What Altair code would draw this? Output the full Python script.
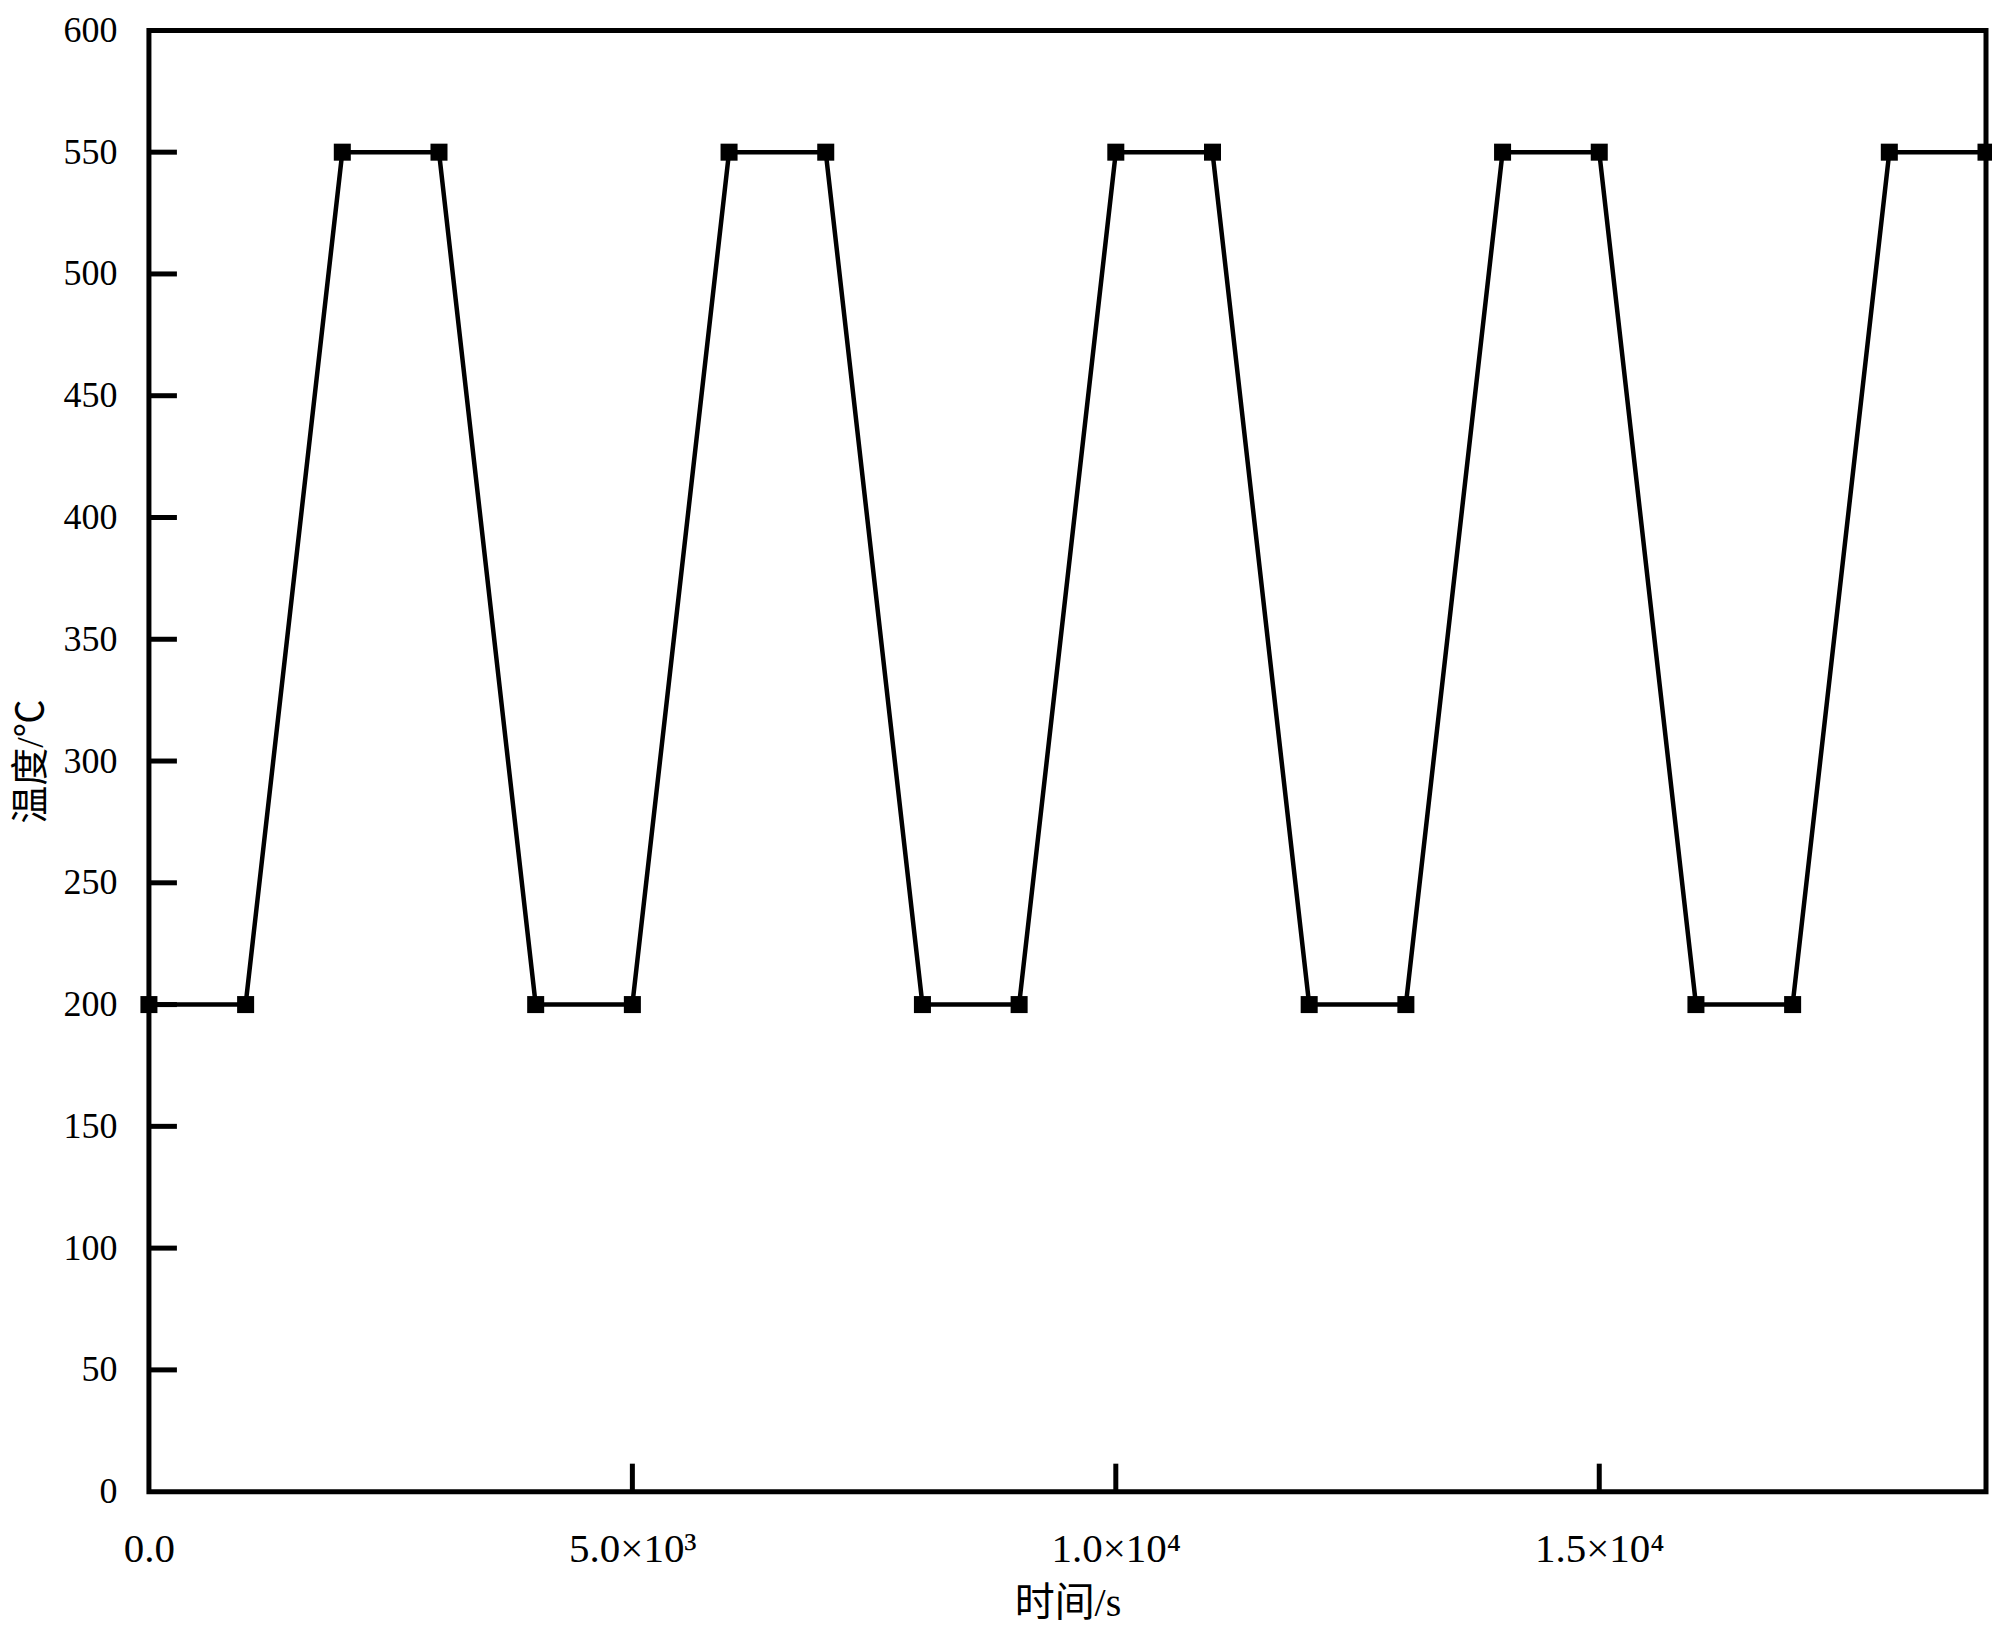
import altair as alt
import pandas as pd

time_s = [0, 1000, 2000, 3000, 4000, 5000, 6000, 7000, 8000, 9000,
          10000, 11000, 12000, 13000, 14000, 15000, 16000, 17000, 18000, 19000]
temp_c = [200, 200, 550, 550, 200, 200, 550, 550, 200, 200,
          550, 550, 200, 200, 550, 550, 200, 200, 550, 550]

x_tick_values = [0, 5000, 10000, 15000]
x_tick_labels = ["0.0", "5.0×10³", "1.0×10⁴", "1.5×10⁴"]
y_tick_values = [0, 50, 100, 150, 200, 250, 300, 350, 400, 450, 500, 550, 600]
x_inner_ticks = [5000, 10000, 15000]
y_inner_ticks = [50, 100, 150, 200, 250, 300, 350, 400, 450, 500, 550]

df = pd.DataFrame({"t": time_s, "T": temp_c})

W, H = 1838, 1462
FONT = "Liberation Serif, Noto Sans CJK SC"

label_expr = " : ".join(
    f"datum.value == {v} ? '{l}'" for v, l in zip(x_tick_values, x_tick_labels)
) + " : ''"

xscale = alt.Scale(domain=[0, 19000], nice=False, zero=False)
yscale = alt.Scale(domain=[0, 600], nice=False)

base = alt.Chart(df)

line = base.mark_line(color="black", strokeWidth=4.5).encode(
    x=alt.X("t:Q", scale=xscale,
            axis=alt.Axis(title="时间/s", values=x_tick_values, labelExpr=label_expr,
                          ticks=False, tickSize=0, domain=False, grid=False,
                          labelPadding=38, titlePadding=14,
                          labelFontSize=41, titleFontSize=40,
                          labelFont=FONT, titleFont=FONT, labelColor="black",
                          titleColor="black", titleFontWeight="normal",
                          labelOverlap=False, labelFlush=False)),
    y=alt.Y("T:Q", scale=yscale,
            axis=alt.Axis(title="温度/℃", values=y_tick_values,
                          ticks=False, tickSize=0, domain=False, grid=False,
                          labelPadding=32, titlePadding=12,
                          labelFontSize=36, titleFontSize=38,
                          labelFont=FONT, titleFont=FONT, labelColor="black",
                          titleColor="black", titleFontWeight="normal",
                          labelOverlap=False, labelFlush=False)),
)

points = base.mark_square(color="black", size=290, opacity=1, filled=True).encode(
    x=alt.X("t:Q", scale=xscale),
    y=alt.Y("T:Q", scale=yscale),
)

yt = alt.Chart(pd.DataFrame({"v": y_inner_ticks})).mark_rule(
    color="black", strokeWidth=5
).encode(
    y=alt.Y("v:Q", scale=yscale),
    x=alt.value(0),
    x2=alt.value(28),
)

xt = alt.Chart(pd.DataFrame({"v": x_inner_ticks})).mark_rule(
    color="black", strokeWidth=5
).encode(
    x=alt.X("v:Q", scale=xscale),
    y=alt.value(H),
    y2=alt.value(H - 28),
)

chart = alt.layer(yt, xt, line, points).properties(
    width=W, height=H,
    autosize=alt.AutoSizeParams(type="none"),
    padding={"left": 141, "top": 22, "right": 6, "bottom": 140},
).configure(
    background="white",
    view=alt.ViewConfig(stroke="black", strokeWidth=5),
)

chart.save("out.html", embed_options={"renderer": "svg", "actions": False})
